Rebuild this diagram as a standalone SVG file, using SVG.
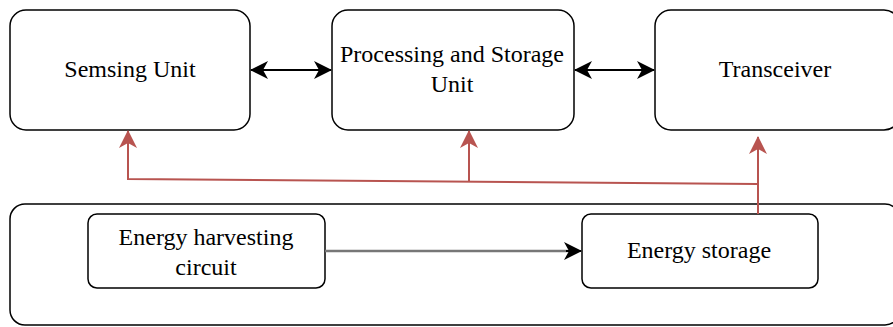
<svg xmlns="http://www.w3.org/2000/svg" width="893" height="327" viewBox="0 0 893 327">
<style>
.box{fill:#fff;stroke:#000;stroke-width:1.5}
.t{font-family:"Liberation Serif","Times New Roman",serif;font-size:24px;fill:#000;text-anchor:middle}
.blk{stroke:#000;stroke-width:2;fill:none}
.red{stroke:#b85450;stroke-width:2;fill:none}
.gry{stroke:#777;stroke-width:2.5;fill:none}
</style>
<defs>
<marker id="ab" viewBox="0 0 18 20" refX="17" refY="10" markerWidth="18" markerHeight="20" markerUnits="userSpaceOnUse" orient="auto-start-reverse"><path d="M0,1 L18,10 L0,19 L5,10 Z" fill="#000"/></marker>
<marker id="ar" viewBox="0 0 18 20" refX="17" refY="10" markerWidth="18" markerHeight="20" markerUnits="userSpaceOnUse" orient="auto"><path d="M0,1 L18,10 L0,19 L5,10 Z" fill="#b85450"/></marker>
</defs>
<rect width="893" height="327" fill="#fff"/>
<g id="container"><rect class="box" x="10" y="204" width="890" height="121" rx="15"/></g>
<g id="sensing"><rect class="box" x="10" y="10" width="240" height="120" rx="16"/><text class="t" x="130" y="77">Semsing Unit</text></g>
<g id="processing"><rect class="box" x="332" y="10" width="242" height="120" rx="16"/><text class="t" x="452" y="62">Processing and Storage</text><text class="t" x="452" y="92">Unit</text></g>
<g id="transceiver"><rect class="box" x="655" y="10" width="245" height="120" rx="16"/><text class="t" x="775" y="77">Transceiver</text></g>
<g id="harvest"><rect class="box" x="88" y="214" width="237" height="74" rx="9"/><text class="t" x="206" y="245">Energy harvesting</text><text class="t" x="206" y="275">circuit</text></g>
<g id="storage"><rect class="box" x="582" y="214" width="236" height="74" rx="9"/><text class="t" x="699" y="258">Energy storage</text></g>
<g id="connectors">
<path class="blk" d="M251,70 H331" marker-start="url(#ab)" marker-end="url(#ab)"/>
<path class="blk" d="M575,70 H654" marker-start="url(#ab)" marker-end="url(#ab)"/>
<path class="gry" d="M325,251 H568"/>
<path d="M566,251 H581" stroke="#000" stroke-width="2" marker-end="url(#ab)"/>
<path class="red" d="M758,214 V137" marker-end="url(#ar)"/>
<path class="red" d="M757,184 L128,179 V131" marker-end="url(#ar)"/>
<path class="red" d="M469,181 V131" marker-end="url(#ar)"/>
</g>
</svg>
